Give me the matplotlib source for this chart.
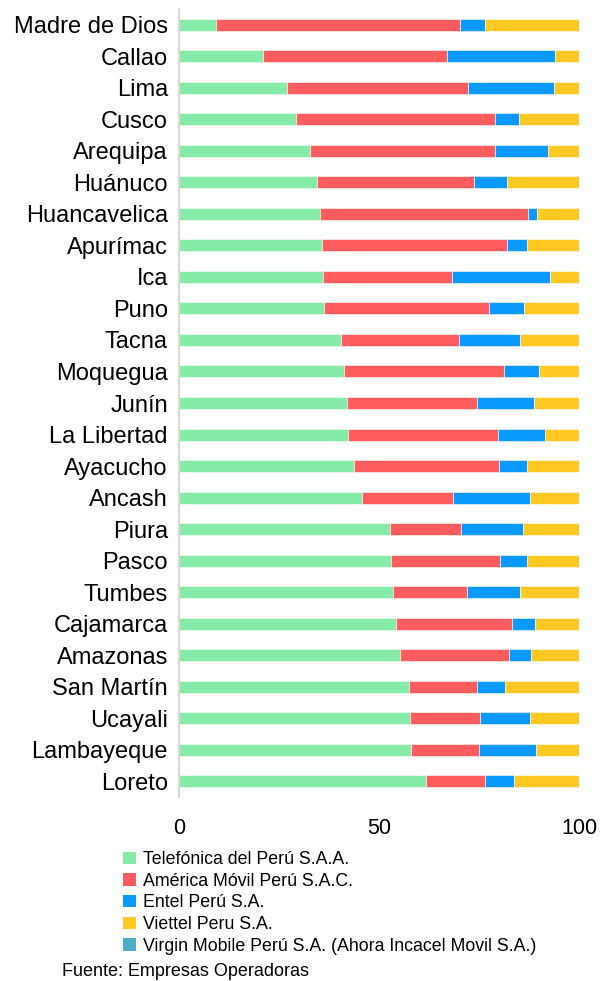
import numpy as np
import matplotlib
matplotlib.use("Agg")
from matplotlib import pyplot as plt
from matplotlib.patches import Patch

plt.rcParams['font.family'] = ['Liberation Sans', 'DejaVu Sans']

regiones = ['Madre de Dios', 'Callao', 'Lima', 'Cusco', 'Arequipa', 'Huánuco',
            'Huancavelica', 'Apurímac', 'Ica', 'Puno', 'Tacna', 'Moquegua', 'Junín',
            'La Libertad', 'Ayacucho', 'Ancash', 'Piura', 'Pasco', 'Tumbes',
            'Cajamarca', 'Amazonas', 'San Martín', 'Ucayali', 'Lambayeque', 'Loreto']

telefonica = [9.2, 21.1, 27.1, 29.2, 32.8, 34.4, 35.3, 35.8, 36.0, 36.2, 40.4, 41.2, 42.1,
              42.2, 43.7, 45.7, 52.7, 52.9, 53.4, 54.2, 55.2, 57.4, 57.8, 57.9, 61.7]
america = [61.1, 45.9, 45.1, 49.7, 46.2, 39.4, 51.9, 46.1, 32.2, 41.4, 29.6, 40.0, 32.4,
           37.5, 36.2, 22.8, 17.7, 27.3, 18.6, 29.1, 27.3, 17.1, 17.4, 17.2, 14.7]
entel = [6.2, 26.9, 21.6, 6.2, 13.2, 8.2, 2.2, 5.0, 24.5, 8.6, 15.3, 8.7, 14.2,
         11.7, 7.0, 19.2, 15.5, 6.7, 13.3, 5.8, 5.4, 7.0, 12.5, 14.2, 7.3]
viettel = [23.5, 6.1, 6.2, 14.9, 7.8, 18.0, 10.6, 13.1, 7.3, 13.8, 14.7, 10.1, 11.3,
           8.6, 13.1, 12.3, 14.1, 13.1, 14.7, 10.9, 12.1, 18.5, 12.3, 10.7, 16.3]
virgin = [0.0] * len(regiones)

empresas = ['Telefónica del Perú S.A.A.', 'América Móvil Perú S.A.C.', 'Entel Perú S.A.',
            'Viettel Peru S.A.', 'Virgin Mobile Perú S.A. (Ahora Incacel Movil S.A.)']
colores = ['#86EBA8', '#FF5C5F', '#0A99FF', '#FFC823', '#4BADC6']

fig = plt.figure(figsize=(6.08, 9.81), dpi=100)
ax = fig.add_axes([179/608, 1 - 797/981, 400/608, 788/981])

y = np.arange(len(regiones))
series = [telefonica, america, entel, viettel, virgin]
left = np.zeros(len(regiones))
for vals, col in zip(series, colores):
    vals = np.array(vals)
    ax.barh(y, vals, left=left, height=0.38, color=col, edgecolor='white', linewidth=0.4)
    left += vals

ax.set_ylim(len(regiones) - 0.5, -0.5)
ax.set_xlim(0, 100)
ax.set_yticks(y)
ax.set_yticklabels(regiones, fontsize=17)
ax.set_xticks([0, 50, 100])
ax.tick_params(axis='y', length=0, pad=8)
ax.tick_params(axis='x', length=0, pad=15, labelsize=15.5)
for s in ['top', 'right', 'bottom']:
    ax.spines[s].set_visible(False)
ax.spines['left'].set_color('#D9D9D9')
ax.spines['left'].set_linewidth(1.5)

handles = [Patch(facecolor=c, edgecolor='none') for c in colores]
fig.legend(handles, empresas, loc='upper left', bbox_to_anchor=(116/608, 1 - 844/981),
           frameon=False, fontsize=12.8, handlelength=0.7, handleheight=0.7,
           handletextpad=0.4, labelspacing=0.26, borderaxespad=0)

fig.text(62/608, 1 - 972/981, 'Fuente: Empresas Operadoras', fontsize=13, va='center')

fig.savefig('out.png', dpi=100)
